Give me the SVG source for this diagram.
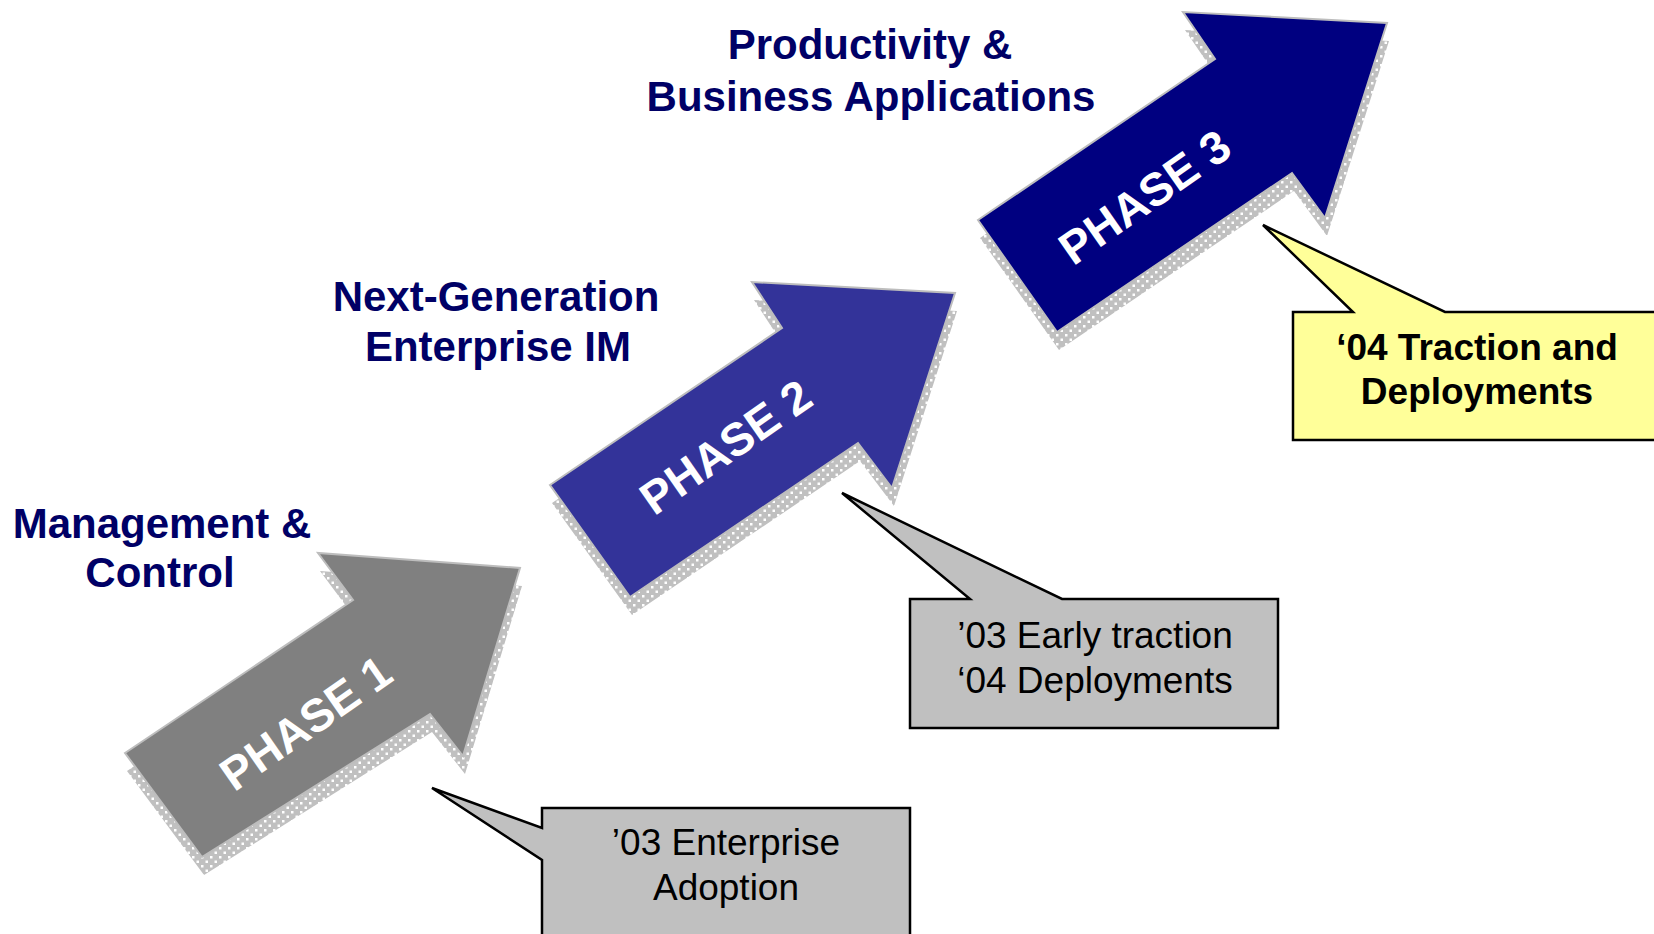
<svg xmlns="http://www.w3.org/2000/svg" width="1654" height="934" viewBox="0 0 1654 934">
  <defs>
    <pattern id="dots" width="9" height="9" patternUnits="userSpaceOnUse">
      <rect width="9" height="9" fill="#c0c0c0"/>
      <rect x="1" y="1" width="2.5" height="2.5" fill="#ffffff"/>
      <rect x="5.5" y="5.5" width="2.5" height="2.5" fill="#ffffff"/>
    </pattern>
    <style>
      .title { font-family: "Liberation Sans", Arial, sans-serif; font-weight: bold; font-size: 42px; fill: #000066; text-anchor: middle; }
      .phase { font-family: "Liberation Sans", Arial, sans-serif; font-weight: bold; font-size: 46px; fill: #ffffff; text-anchor: middle; }
      .shadow { fill: url(#dots); }
      .arrow { stroke: #bdbdbd; stroke-width: 2; stroke-linejoin: miter; }
      .callout { stroke: #000000; stroke-width: 2.5; stroke-linejoin: miter; }
      .ctext { font-family: "Liberation Sans", Arial, sans-serif; font-size: 37px; fill: #000000; text-anchor: middle; }
      .ctextb { font-family: "Liberation Sans", Arial, sans-serif; font-weight: bold; font-size: 37px; fill: #000000; text-anchor: middle; }
    </style>
  </defs>
  <rect width="1654" height="934" fill="#ffffff"/>

  <g id="title1">
    <text class="title" x="162" y="538">Management &amp;</text>
    <text class="title" x="160" y="587">Control</text>
  </g>
  <g id="title2">
    <text class="title" x="496" y="311">Next-Generation</text>
    <text class="title" x="498" y="361">Enterprise IM</text>
  </g>
  <g id="title3">
    <text class="title" x="870" y="59">Productivity &amp;</text>
    <text class="title" x="871" y="111">Business Applications</text>
  </g>

  <g id="phase1">
    <polygon class="shadow" transform="translate(2,18)" points="125,753 353,600 318,553 520,568 463,756 430,714 202,857"/>
    <polygon class="arrow" fill="#808080" points="125,753 353,600 318,553 520,568 463,756 430,714 202,857"/>
    <text class="phase" transform="translate(305,722) rotate(-35)" y="17">PHASE 1</text>
  </g>
  <g id="phase2">
    <polygon class="shadow" transform="translate(2,18)" points="550,485 782,328 752,282 955,293 892,488 858,443 630,597"/>
    <polygon class="arrow" fill="#333399" points="550,485 782,328 752,282 955,293 892,488 858,443 630,597"/>
    <text class="phase" transform="translate(725,446) rotate(-35)" y="17">PHASE 2</text>
  </g>
  <g id="phase3">
    <polygon class="shadow" transform="translate(2,18)" points="978,220 1215,59 1183,12 1387,23 1325,218 1292,173 1057,332"/>
    <polygon class="arrow" fill="#000080" points="978,220 1215,59 1183,12 1387,23 1325,218 1292,173 1057,332"/>
    <text class="phase" transform="translate(1144,196) rotate(-35)" y="17">PHASE 3</text>
  </g>

  <g id="callout1">
    <path class="callout" fill="#c0c0c0" d="M542,808 H910 V944 H542 V860 L432,788 L542,828 Z"/>
    <text class="ctext" x="726" y="855">’03 Enterprise</text>
    <text class="ctext" x="726" y="900">Adoption</text>
  </g>
  <g id="callout2">
    <path class="callout" fill="#c0c0c0" d="M910,599 H970 L842,493 L1062,599 H1278 V728 H910 Z"/>
    <text class="ctext" x="1095" y="648">’03 Early traction</text>
    <text class="ctext" x="1095" y="693">‘04 Deployments</text>
  </g>
  <g id="callout3">
    <path class="callout" fill="#ffff99" d="M1293,312 H1353 L1263,225 L1445,312 H1664 V440 H1293 Z"/>
    <text class="ctextb" x="1477" y="360">‘04 Traction and</text>
    <text class="ctextb" x="1477" y="404">Deployments</text>
  </g>
</svg>
